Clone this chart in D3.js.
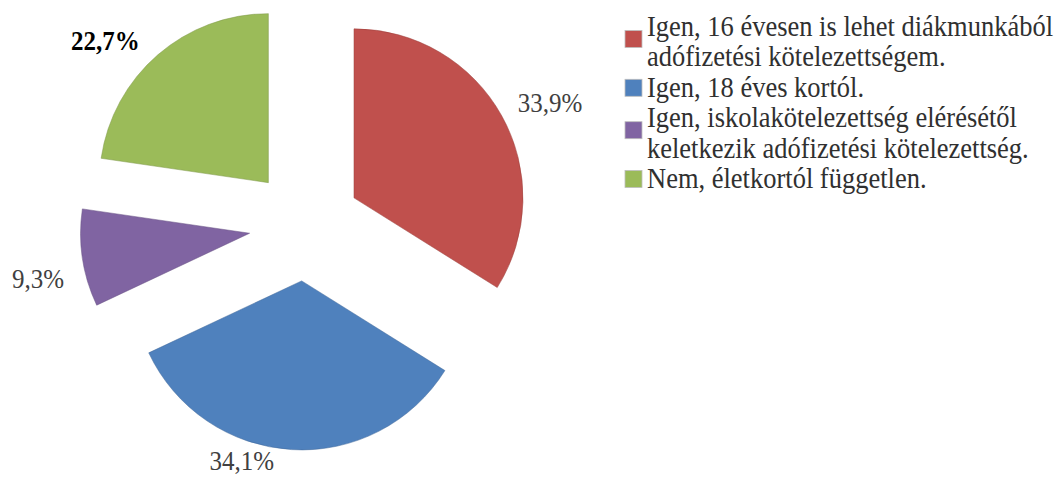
<!DOCTYPE html>
<html>
<head>
<meta charset="utf-8">
<script src="https://cdn.jsdelivr.net/npm/d3@7"></script>
<style>
  html, body { margin: 0; padding: 0; background: #fff; }
  svg { display: block; }
</style>
</head>
<body>
<svg id="chart" width="1063" height="480"></svg>
<script>
// Answer categories and their shares (%)
const categories = [
  "Igen, 16 évesen is lehet diákmunkából adófizetési kötelezettségem.",
  "Igen, 18 éves kortól.",
  "Igen, iskolakötelezettség elérésétől keletkezik adófizetési kötelezettség.",
  "Nem, életkortól független."
];
const legendLines = [
  ["Igen, 16 évesen is lehet diákmunkából", "adófizetési kötelezettségem."],
  ["Igen, 18 éves kortól."],
  ["Igen, iskolakötelezettség elérésétől", "keletkezik adófizetési kötelezettség."],
  ["Nem, életkortól független."]
];
const values = [33.9, 34.1, 9.3, 22.7];
const valueLabels = ["33,9%", "34,1%", "9,3%", "22,7%"];
const colors = ["#C0504D", "#4F81BD", "#8064A2", "#9BBB59"];
// label placement: angular shift from slice bisector (deg) and radius factor
const labelShift = [3, 15, -3.5, -8];
const labelRadius = [1.29, 1.12, 1.28, 1.28];
const labelBold = [false, false, false, true];

const serif = "'Liberation Serif', 'Times New Roman', Times, serif";
const svg = d3.select("#chart");
const cx = 305, cy = 225, R = 169, explode = 56;

const pie = d3.pie().sort(null).value(d => d)(values);
const arc = d3.arc().innerRadius(0).outerRadius(R);

const g = svg.append("g").attr("transform", `translate(${cx},${cy})`);

const slices = g.selectAll("g.slice").data(pie).enter().append("g")
  .attr("class", "slice")
  .attr("transform", d => {
    const a = (d.startAngle + d.endAngle) / 2;
    return `translate(${Math.sin(a) * explode},${-Math.cos(a) * explode})`;
  });

slices.append("path")
  .attr("d", arc)
  .attr("fill", (d, i) => colors[i])
  .attr("stroke", (d, i) => d3.color(colors[i]).darker(0.6))
  .attr("stroke-opacity", 0.5)
  .attr("stroke-width", 1);

slices.append("text")
  .attr("transform", (d, i) => {
    const a = (d.startAngle + d.endAngle) / 2 + labelShift[i] * Math.PI / 180;
    const r = R * labelRadius[i];
    return `translate(${Math.sin(a) * r},${-Math.cos(a) * r}) scale(1,1.1)`;
  })
  .attr("text-anchor", "middle")
  .attr("dy", "0.35em")
  .attr("font-family", serif)
  .attr("font-size", 25)
  .attr("font-weight", (d, i) => labelBold[i] ? "bold" : "normal")
  .attr("fill", (d, i) => labelBold[i] ? "#000" : "#404040")
  .text((d, i) => valueLabels[i]);

// Legend
const legend = svg.append("g").attr("transform", "translate(625,0)");
const lineH = 30.4;
let lineIdx = 0;
legendLines.forEach((lines, i) => {
  const firstBaseline = 36 + lineIdx * lineH;
  const item = legend.append("g");
  const sqCenter = lines.length > 1 ? firstBaseline + 3 : firstBaseline - 9;
  item.append("rect")
    .attr("x", 0).attr("y", sqCenter - 8.5)
    .attr("width", 17).attr("height", 17)
    .attr("fill", colors[i])
    .attr("stroke", "#bdbdbd").attr("stroke-width", 0.8);
  lines.forEach((t, j) => {
    item.append("text")
      .attr("transform", `translate(22,${firstBaseline + j * lineH}) scale(1,1.1)`)
      .attr("font-family", serif)
      .attr("font-size", 26.5)
      .attr("fill", "#303030")
      .text(t);
  });
  lineIdx += lines.length;
});
</script>
</body>
</html>
